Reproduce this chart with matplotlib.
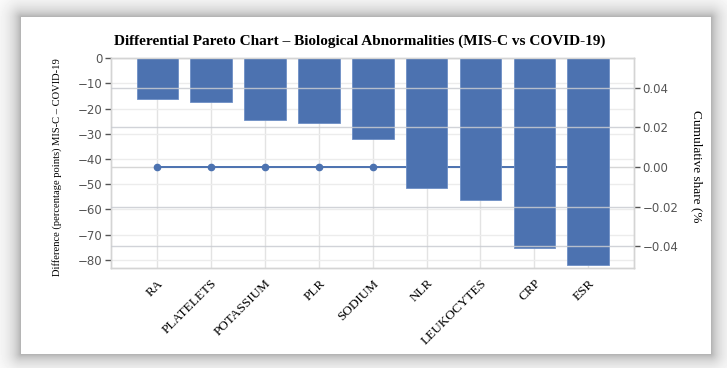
import matplotlib
matplotlib.use("Agg")
import matplotlib.pyplot as plt
import matplotlib.transforms as mtransforms
import numpy as np

markers_lab = ["RA", "PLATELETS", "POTASSIUM", "PLR", "SODIUM",
               "NLR", "LEUKOCYTES", "CRP", "ESR"]
diff_pp = [-16.3, -17.2, -24.6, -25.5, -32.2, -51.3, -56.2, -75.4, -82.0]
cum_share = [0.0, 0.0, 0.0, 0.0, 0.0, 0.0, 0.0, 0.0, 0.0]
left_ticks = [0, -10, -20, -30, -40, -50, -60, -70, -80]
right_ticks = [0.04, 0.02, 0.00, -0.02, -0.04]

W, H = 727, 368
fig = plt.figure(figsize=(W / 100, H / 100), dpi=100)

# paper card with soft shadow
bg = fig.add_axes([0, 0, 1, 1], zorder=-10)
yy, xx = np.mgrid[0:H, 0:W]
x0, x1, y0, y1 = 21, 710, 17, 353
dx = np.maximum(np.maximum(x0 - xx, xx - x1), 0)
dy = np.maximum(np.maximum(y0 - yy, yy - y1), 0)
d = np.hypot(dx, dy)
shade = 1 - 0.32 * np.exp(-d / 10.0)
shade[(xx >= x0) & (xx <= x1) & (yy >= y0) & (yy <= y1)] = 1.0
bg.imshow(shade, cmap="gray", vmin=0, vmax=1, aspect="auto", interpolation="bilinear")
bg.axis("off")

blue = "#4C72B0"
serif = ["Liberation Serif", "DejaVu Serif"]

ax = fig.add_axes([111 / W, 1 - 267.7 / H, (634 - 111) / W, (267.7 - 58.3) / H])
ax2 = ax.twinx()
# line sits behind the bars
ax2.set_zorder(ax.get_zorder() - 1)
ax.patch.set_visible(False)
ax2.patch.set_facecolor("white")

x = np.arange(len(markers_lab))
ax.bar(x, diff_pp, width=0.77, color=blue, edgecolor="#6d8fc6", linewidth=0.6, zorder=2)
ax.set_xlim(-0.86, 8.85)
ax.set_ylim(-83.1, 0)
ax.set_yticks(left_ticks)
ax.set_yticklabels([str(t).replace("-", "\u2212") for t in left_ticks])
ax.set_xticks(x)
ax.set_xticklabels(markers_lab, rotation=45, ha="right", rotation_mode="anchor",
                   family=serif, fontsize=9.5)
ax.tick_params(axis="x", length=0, pad=7)
ax.tick_params(axis="y", length=4, width=1, color="#555555", labelsize=8.5,
               labelcolor="#555555", pad=2)
for t in ax.get_yticklabels():
    t.set_family("DejaVu Sans")

ax2.plot(x, cum_share, color=blue, lw=1.4, marker="o", ms=4.5, zorder=3)
ax2.set_ylim(-0.0507, 0.0547)
ax2.set_yticks(right_ticks)
ax2.set_yticklabels(["%.2f" % t if t >= 0 else "\u2212%.2f" % -t for t in right_ticks])
ax2.tick_params(axis="y", length=4, width=1, color="#555555", labelsize=8.5,
                labelcolor="#555555", pad=2)

# grids: category and left grid under everything, right grid drawn over the bars
for xi in x:
    ax2.axvline(xi, color="#e3e3e3", lw=1, zorder=0)
for t in left_ticks:
    ax2.plot([0, 1], [t, t], transform=mtransforms.blended_transform_factory(ax.transAxes, ax.transData),
             color="#ececec", lw=1, zorder=0)
tr = mtransforms.blended_transform_factory(ax.transAxes, ax2.transData)
for t in [0.04, 0.02, -0.02, -0.04]:
    ax.plot([0, 1], [t, t], transform=tr, color="#c9ccd2", lw=1, alpha=0.85, zorder=3)
ax2.plot([0, 1], [0, 0], transform=tr, color="#d6d6d6", lw=1, zorder=0)

for a in (ax, ax2):
    for s in a.spines.values():
        s.set_color("#d4d4d4")
        s.set_linewidth(1)

fig.text(360 / W, 1 - 41 / H,
         "Differential Pareto Chart \u2013 Biological Abnormalities (MIS-C vs COVID-19)",
         ha="center", va="center", family=serif, fontweight="bold", fontsize=11)
fig.text(57 / W, 1 - 167 / H, "Difference (percentage points) MIS-C \u2013 COVID-19",
         rotation=90, ha="center", va="center", family=serif, fontsize=7.6)
fig.text(697 / W, 1 - 166 / H, "Cumulative share (%",
         rotation=270, ha="center", va="center", family=serif, fontsize=9.5)

fig.savefig("out.png", dpi=100)
